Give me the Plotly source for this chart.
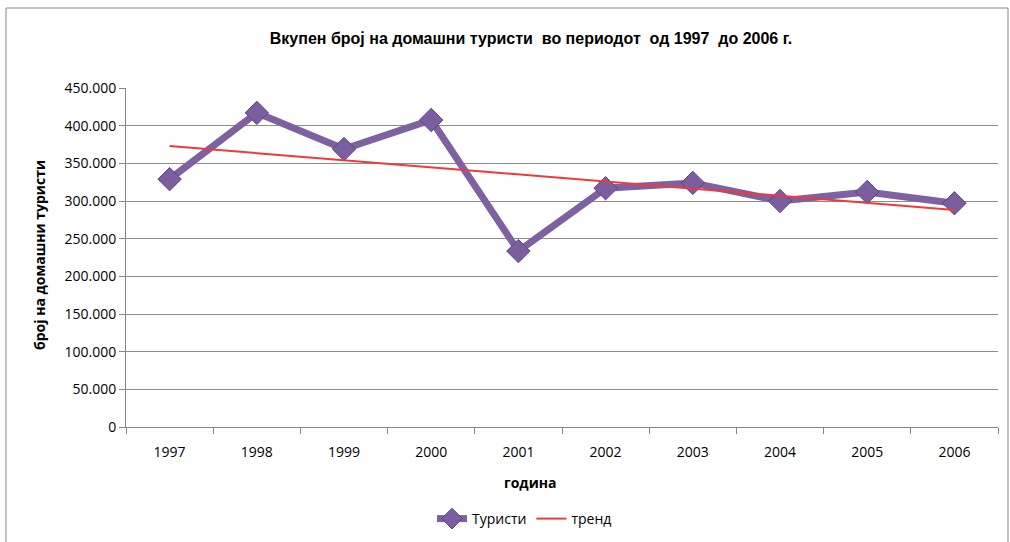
import plotly.graph_objects as go

years = ["1997", "1998", "1999", "2000", "2001", "2002", "2003", "2004", "2005", "2006"]
tourists = [329000, 417000, 369000, 407500, 233500, 317000, 324000, 300000, 312000, 297000]
trend_years = ["1997", "2006"]
trend_values = [373000, 288000]
y_ticks = [0, 50000, 100000, 150000, 200000, 250000, 300000, 350000, 400000, 450000]

L, R, T, B = 126, 998, 88, 427
W, H = 1010, 542
pw, ph = R - L, B - T

fig = go.Figure()
fig.add_trace(go.Scatter(
    x=years, y=tourists, name="Туристи", mode="lines+markers",
    line=dict(color="#7D61A1", width=7),
    marker=dict(symbol="diamond", size=18, color="#7A5E9F",
                line=dict(color="#5E4683", width=1)),
))
fig.add_trace(go.Scatter(
    x=trend_years, y=trend_values, name="тренд", mode="lines",
    line=dict(color="#F0393A", width=2),
))

fig.update_layout(
    width=W, height=H,
    margin=dict(l=L, r=W - R, t=T, b=H - B, autoexpand=False),
    paper_bgcolor="white", plot_bgcolor="white",
    separators=",.",
    font=dict(family="Open Sans, Liberation Sans, sans-serif", size=14, color="#000000"),
    title=dict(text="<b>Вкупен број на домашни туристи  во периодот  од 1997  до 2006 г.</b>",
               x=531 / W, xanchor="center", y=1 - 38 / H, yanchor="middle",
               font=dict(family="Liberation Sans, Arial, sans-serif", size=16)),
    xaxis=dict(type="category", range=[-0.5, 9.5], showgrid=False, automargin=False,
               showline=True, linecolor="#868686", linewidth=1,
               ticks="outside", tickson="boundaries", ticklen=6, tickcolor="#868686",
               ticklabelstandoff=12, tickfont=dict(size=14)),
    yaxis=dict(range=[0, 450000], tickvals=y_ticks, tickformat=",d", automargin=False,
               showgrid=True, gridcolor="#8C8C8C", gridwidth=1,
               showline=True, linecolor="#868686", linewidth=1,
               ticks="outside", ticklen=6, tickcolor="#868686",
               zeroline=False, tickfont=dict(size=14)),
    legend=dict(orientation="h", x=(432 - L) / pw, xanchor="left", y=(B - 519) / ph, yanchor="middle",
                font=dict(size=14)),
    showlegend=True,
)

fig.add_annotation(text="<b>година</b>", xref="paper", yref="paper",
                   x=(530 - L) / pw, y=(B - 482) / ph, showarrow=False,
                   xanchor="center", yanchor="middle", font=dict(size=14))
fig.add_annotation(text="<b>број на домашни туристи</b>", xref="paper", yref="paper",
                   x=(40 - L) / pw, y=(B - 255) / ph, showarrow=False, textangle=-90,
                   xanchor="center", yanchor="middle", font=dict(size=14))

fig.add_shape(type="rect", xref="paper", yref="paper",
              x0=(6 - L) / pw, x1=(1008 - L) / pw,
              y0=(B - 560) / ph, y1=(B - 8) / ph,
              line=dict(color="#868686", width=1), layer="below")

fig.write_html("out.html", config={"displayModeBar": False},
               post_script="document.body.style.margin='0px';")
